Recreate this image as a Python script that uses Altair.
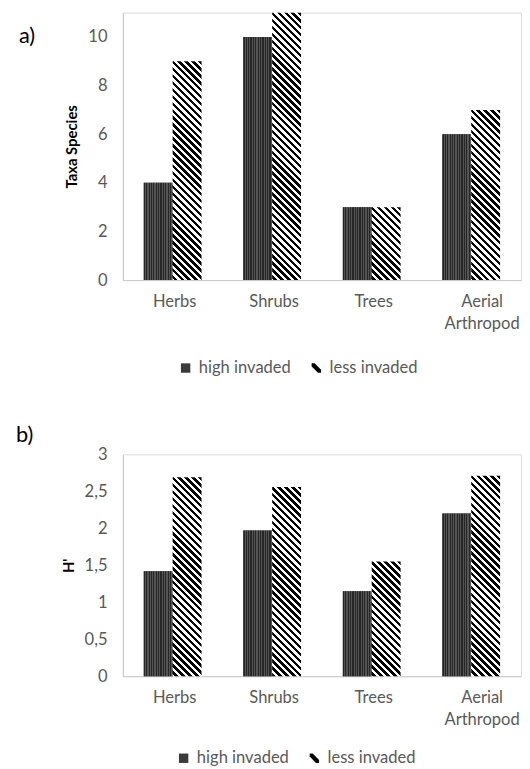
import altair as alt
import pandas as pd

# ---------------- data ----------------
categories = ["Herbs", "Shrubs", "Trees", "Aerial Arthropod"]
groups = ["high invaded", "less invaded"]
taxa_high = [4, 10, 3, 6]
taxa_less = [9, 11, 3, 7]
shannon_high = [1.42, 1.97, 1.15, 2.20]
shannon_less = [2.69, 2.56, 1.55, 2.71]
taxa_ticks = [0, 2, 4, 6, 8, 10]
shannon_ticks = [0, 0.5, 1, 1.5, 2, 2.5, 3]

# ---------------- style ----------------
FONT = "Lato"
FS = 16.7
GREY_TXT = "#595959"
AXIS_LINE = "#c9c9c9"
DARK = "#3b3b3b"
PLOT_W = 402
STEP = PLOT_W / 4
PAD_IN = 0.42
BAR_W = STEP * (1 - PAD_IN) / 2
STRIPE_PERIOD = 7.0
DOT_PERIOD = 2.4
STRIPE_PATH = "M-1,-1L-0.35,-1L1,0.35L1,1L0.35,1L-1,-0.35Z"


def stripe_gradient(h, w=BAR_W, period=STRIPE_PERIOD):
    """Linear gradient (bbox units) that draws 45-degree black/white stripes."""
    r = w / h
    c = (1 + r) / (1 + r * r)
    n = (h + w) / period
    stops = []
    k = 0
    while k < n:
        a = k / n
        m = min((k + 0.5) / n, 1.0)
        b = min((k + 1) / n, 1.0)
        stops += [
            {"offset": round(a, 5), "color": "#000000"},
            {"offset": round(m, 5), "color": "#000000"},
            {"offset": round(m, 5), "color": "#ffffff"},
            {"offset": round(b, 5), "color": "#ffffff"},
        ]
        k += 1
    return {"gradient": "linear", "x1": 1, "y1": 0,
            "x2": round(1 - c * r, 5), "y2": round(c, 5), "stops": stops}


def fine_texture(w=BAR_W, period=DOT_PERIOD):
    """Fine vertical texture for the dark (high invaded) bars."""
    n = w / period
    stops = []
    k = 0
    while k < n:
        a = k / n
        m = min((k + 0.5) / n, 1.0)
        b = min((k + 1) / n, 1.0)
        stops += [
            {"offset": round(a, 5), "color": "#262626"},
            {"offset": round(m, 5), "color": "#262626"},
            {"offset": round(m, 5), "color": "#555555"},
            {"offset": round(b, 5), "color": "#555555"},
        ]
        k += 1
    return {"gradient": "linear", "x1": 0, "y1": 0, "x2": 1, "y2": 0, "stops": stops}


def panel(vals_high, vals_less, ymax, ticks, height, ytitle, tag, tag_x, tag_y,
          leg_x, leg_y, ylabel_expr):
    df = pd.DataFrame({
        "cat": categories * 2,
        "grp": [groups[0]] * 4 + [groups[1]] * 4,
        "val": list(vals_high) + list(vals_less),
    })
    px = height / ymax
    base = alt.Chart(df)

    x = alt.X("cat:N", sort=categories,
              scale=alt.Scale(paddingInner=PAD_IN, paddingOuter=PAD_IN / 2),
              axis=alt.Axis(title=None, labelAngle=0, ticks=False,
                            domainColor=AXIS_LINE, labelColor=GREY_TXT,
                            labelFontSize=FS, labelFont=FONT, labelPadding=14,
                            labelLineHeight=22,
                            labelOffset={"condition": {"test": "datum.value === 'Aerial Arthropod'",
                                                       "value": 11},
                                         "value": 2},
                            labelExpr="datum.label == 'Aerial Arthropod' ? ['Aerial', 'Arthropod'] : datum.label"))
    xo = alt.XOffset("grp:N", sort=groups)
    yaxis = dict(values=ticks, title=ytitle, grid=False, ticks=False,
                 domainColor=AXIS_LINE, labelColor=GREY_TXT, labelFontSize=FS,
                 labelFont=FONT, labelPadding=16, titleFontSize=15,
                 titleFont=FONT, titleFontWeight="bold", titleColor="#000000",
                 titlePadding=8)
    if ylabel_expr:
        yaxis["labelExpr"] = ylabel_expr
    yscale = alt.Scale(domain=[0, ymax], nice=False)
    y = alt.Y("val:Q", scale=yscale, axis=alt.Axis(**yaxis))

    # legend carrier: symbols sit in the middle of each bar and are hidden by the bars
    leg = alt.Legend(title=None, orient="none", legendX=leg_x, legendY=leg_y,
                     direction="horizontal", symbolSize=90, labelFontSize=FS,
                     labelFont=FONT, labelColor=GREY_TXT, columnPadding=17,
                     labelOffset=5, symbolStrokeWidth=0, symbolOpacity=1)
    legend_pts = base.transform_calculate(mid="datum.val / 2").mark_point(
        filled=True, size=30, opacity=1
    ).encode(
        x=x, xOffset=xo, y=alt.Y("mid:Q", scale=yscale, axis=alt.Axis(**yaxis)),
        fill=alt.Fill("grp:N", scale=alt.Scale(domain=groups, range=[DARK, "#000000"]),
                      legend=leg),
        shape=alt.Shape("grp:N", scale=alt.Scale(domain=groups, range=["square", STRIPE_PATH]),
                        legend=leg),
    )

    bars = base.mark_bar().encode(
        x=x, xOffset=xo, y=y,
        color=alt.Color("grp:N", scale=alt.Scale(domain=groups, range=[DARK, "#ffffff"]),
                        legend=None),
    )

    dotted = base.transform_filter(alt.datum.grp == groups[0]).mark_bar(
        fill=fine_texture()
    ).encode(x=x, xOffset=xo, y=y)

    grads = [stripe_gradient(v * px) for v in vals_less]
    fill_def = {
        "condition": [
            {"test": f"datum.cat === '{c}'", "value": g}
            for c, g in zip(categories[:-1], grads[:-1])
        ],
        "value": grads[-1],
    }
    stripes = base.transform_filter(alt.datum.grp == groups[1]).mark_bar().encode(
        x=x, xOffset=xo, y=y, fill=fill_def,
    )

    tag_layer = alt.Chart(alt.Data(values=[{"t": tag}])).mark_text(
        align="left", baseline="middle", fontSize=22, font=FONT, color="#000000"
    ).encode(text="t:N", x=alt.value(tag_x), y=alt.value(tag_y))

    return alt.layer(legend_pts, bars, dotted, stripes, tag_layer).properties(
        width=PLOT_W, height=height)


pa = panel(taxa_high, taxa_less, 11, taxa_ticks, 270, "Taxa Species", "a)",
           -105, 24, 55, 350, None)
pb = panel(shannon_high, shannon_less, 3, shannon_ticks, 224, "H'", "b)",
           -108, -19, 53, 298, "replace(format(datum.value, '~g'), '.', ',')")

chart = alt.vconcat(pa, pb, spacing=46).resolve_legend(
    fill="independent", shape="independent"
).properties(
    padding={"left": 7, "top": 0, "right": 0, "bottom": 0}
).configure_view(stroke=None).configure(font=FONT, background="#ffffff")

chart.save("out.html", embed_options={"renderer": "svg", "actions": False})
